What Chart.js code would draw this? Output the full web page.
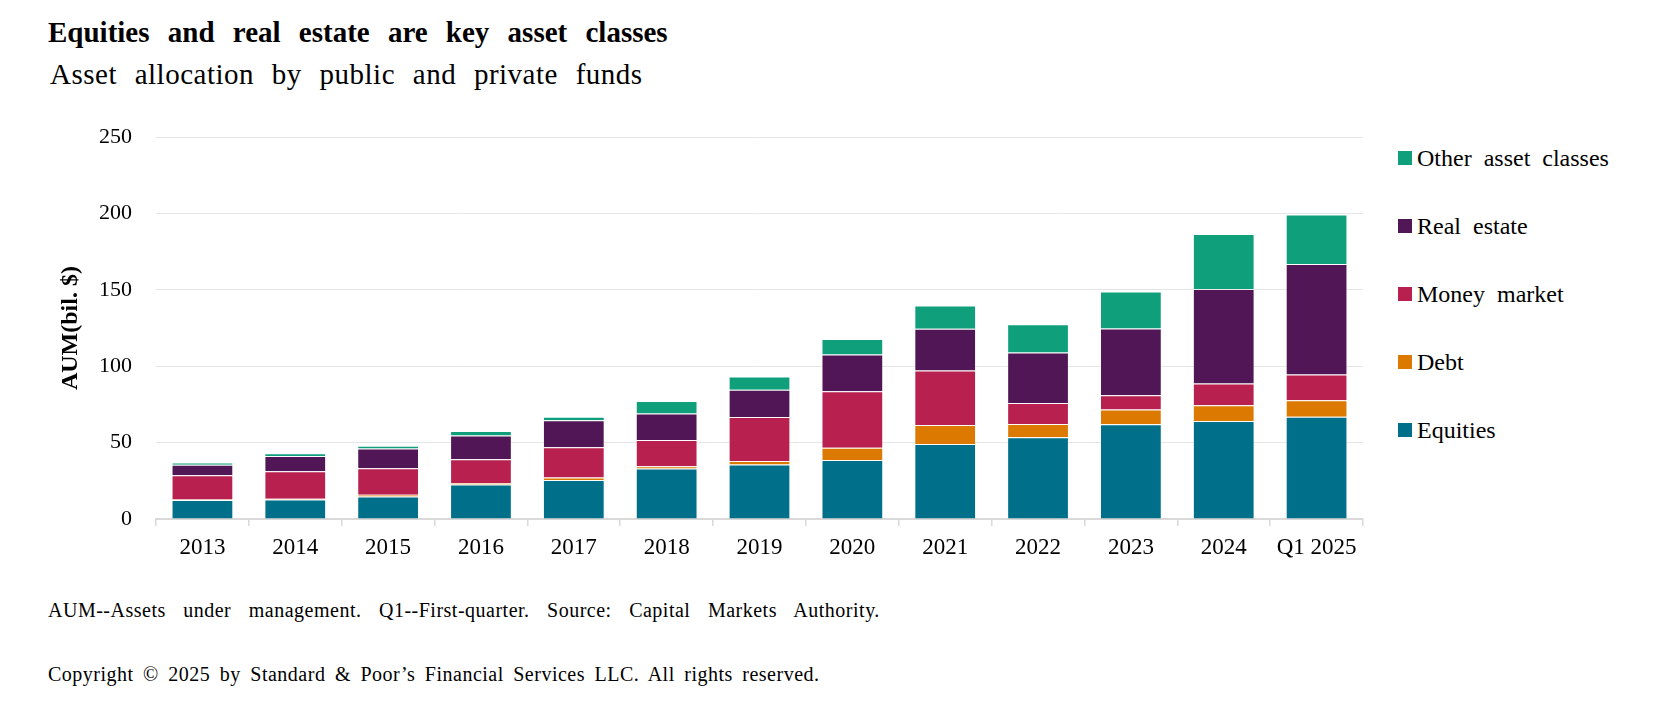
<!DOCTYPE html>
<html>
<head>
<meta charset="utf-8">
<title>Asset allocation by public and private funds</title>
<script src="https://cdn.jsdelivr.net/npm/chart.js@4.4.1/dist/chart.umd.min.js"></script>
<style>
  body { margin: 0; background: #fff; }
  #wrap { position: relative; width: 1656px; height: 703px; overflow: hidden; font-family: "Liberation Serif", "Times New Roman", serif; color: #000; }
  #wrap canvas { position: absolute; left: 0; top: 100px; }
  .txt { position: absolute; left: 48px; white-space: nowrap; line-height: 1; }
  #title { top: 18px; font-size: 29px; font-weight: bold; word-spacing: 11px; }
  #subtitle { top: 60px; left: 50px; font-size: 29px; letter-spacing: 0.5px; word-spacing: 10px; }
  #note { top: 600px; font-size: 20px; letter-spacing: 0.5px; word-spacing: 12px; }
  #copy { top: 664px; font-size: 20px; letter-spacing: 0.5px; word-spacing: 4px; }
  #legend { position: absolute; left: 1398px; top: 0; }
  .item { position: absolute; left: 0; height: 24px; display: flex; align-items: center; white-space: nowrap; font-size: 24px; line-height: 24px; word-spacing: 6px; }
  .item span.box { width: 14px; height: 14px; margin-right: 5px; display: inline-block; }
</style>
</head>
<body>
<div id="wrap">
  <div class="txt" id="title">Equities and real estate are key asset classes</div>
  <div class="txt" id="subtitle">Asset allocation by public and private funds</div>
  <canvas id="aumChart" width="1390" height="480"></canvas>
  <div id="legend"></div>
  <div class="txt" id="note">AUM--Assets under management. Q1--First-quarter. Source: Capital Markets Authority.</div>
  <div class="txt" id="copy">Copyright © 2025 by Standard &amp; Poor’s Financial Services LLC. All rights reserved.</div>
</div>
<script>
// Categories and stacked series (bil. $)
const years = ['2013', '2014', '2015', '2016', '2017', '2018', '2019', '2020', '2021', '2022', '2023', '2024', 'Q1 2025'];
const equities = [12.4, 12.8, 14.8, 22.6, 25.6, 33.1, 35.7, 38.7, 49.1, 53.6, 62.0, 64.2, 67.0];
const debt = [0.3, 0.4, 1.1, 0.9, 1.5, 1.5, 2.2, 8.0, 12.5, 8.6, 9.7, 10.3, 10.8];
const moneyMarket = [15.9, 18.0, 17.3, 15.7, 19.8, 17.1, 28.9, 36.9, 35.6, 13.8, 9.3, 14.3, 16.8];
const realEstate = [6.9, 10.1, 12.9, 15.5, 17.7, 17.4, 17.8, 24.1, 27.3, 33.0, 43.7, 61.8, 72.4];
const otherAssets = [1.5, 1.7, 1.9, 3.0, 2.4, 8.2, 8.7, 10.1, 15.3, 18.5, 24.2, 36.0, 32.4];
const yTicks = [0, 50, 100, 150, 200, 250];

// Legend rows (centre y, px) top to bottom
const legendRows = [158, 226, 294, 362, 430];

Chart.defaults.font.family = '"Liberation Serif", "Times New Roman", serif';
Chart.defaults.color = '#000';

function series(label, data, color) {
  return {
    label,
    data,
    backgroundColor: color,
    borderColor: 'rgba(255,255,255,0.2)',
    borderWidth: 1,
    barPercentage: 0.665,
    categoryPercentage: 1.0
  };
}

const ctx = document.getElementById('aumChart').getContext('2d');

const chart = new Chart(ctx, {
  type: 'bar',
  data: {
    labels: years,
    datasets: [
      series('Equities', equities, '#006F89'),
      series('Debt', debt, '#DB7900'),
      series('Money market', moneyMarket, '#B8204F'),
      series('Real estate', realEstate, '#501655'),
      series('Other asset classes', otherAssets, '#0F9F7A')
    ]
  },
  options: {
    responsive: false,
    animation: false,
    devicePixelRatio: 1,
    layout: { padding: { top: 32, bottom: 11, left: 0, right: 27 } },
    plugins: {
      legend: { display: false },
      tooltip: { enabled: false }
    },
    scales: {
      x: {
        stacked: true,
        grid: { offset: true, drawOnChartArea: false, drawTicks: true, tickLength: 7, color: '#d9d9d9', lineWidth: 1.5 },
        border: { color: '#d9d9d9', width: 2 },
        ticks: { font: { size: 23 }, padding: 8, maxRotation: 0, autoSkip: false },
        afterFit: axis => { axis.height = 50; }
      },
      y: {
        stacked: true,
        min: 0,
        max: 250,
        afterBuildTicks: axis => { axis.ticks = yTicks.map(v => ({ value: v })); },
        ticks: { font: { size: 22 }, padding: 24 },
        grid: { color: '#e6e6e6', drawTicks: false },
        border: { display: false },
        title: {
          display: true,
          text: 'AUM(bil. $)',
          font: { size: 24, weight: 'bold' },
          padding: { top: 56, bottom: 0 }
        },
        afterFit: axis => { axis.width = 156; }
      }
    }
  }
});

// --- HTML legend, top item = last dataset ---
const legendEl = document.getElementById('legend');
chart.data.datasets.slice().reverse().forEach((ds, i) => {
  const row = document.createElement('div');
  row.className = 'item';
  row.style.top = (legendRows[i] - 12) + 'px';
  row.innerHTML = `<span class="box" style="background:${ds.backgroundColor}"></span>${ds.label}`;
  legendEl.appendChild(row);
});
</script>
</body>
</html>
